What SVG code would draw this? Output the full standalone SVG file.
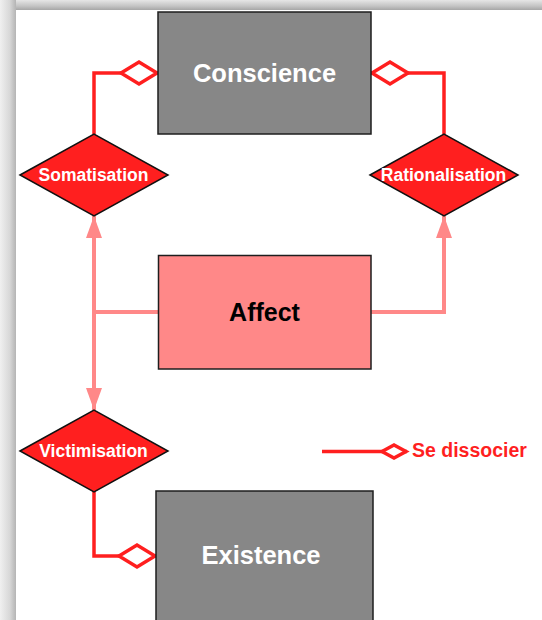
<svg xmlns="http://www.w3.org/2000/svg" width="542" height="620" viewBox="0 0 542 620">
  <style>
    .box { stroke: #1e1e1e; stroke-width: 1.5; }
    .gray { fill: #878787; }
    .pink { fill: #ff8888; }
    .dec { fill: #ff1f1f; stroke: #111; stroke-width: 1.5; }
    .t { font-family: "Liberation Sans", Arial, sans-serif; font-weight: bold; text-anchor: middle; }
    .big { font-size: 25.5px; fill: #ffffff; }
    .dt { font-size: 17.5px; fill: #ffffff; }
    .red { fill: none; stroke: #ff1f1f; stroke-width: 3.5; }
    .pl { fill: none; stroke: #ff8888; stroke-width: 4; }
  </style>
  <defs>
    <linearGradient id="gl" x1="0" y1="0" x2="1" y2="0">
      <stop offset="0" stop-color="#f0f0f0"/>
      <stop offset="0.6" stop-color="#d8d8d8"/>
      <stop offset="1" stop-color="#b4b4b4"/>
    </linearGradient>
    <linearGradient id="gt" x1="0" y1="0" x2="0" y2="1">
      <stop offset="0" stop-color="#e6e6e6"/>
      <stop offset="0.6" stop-color="#c4c4c4"/>
      <stop offset="1" stop-color="#a6a6a6"/>
    </linearGradient>
    <marker id="dia" markerUnits="userSpaceOnUse" viewBox="0 0 38 24" markerWidth="38" markerHeight="24" refX="38" refY="12" orient="auto" overflow="visible">
      <path d="M1 12 L19 1 L37 12 L19 23 Z" fill="#ffffff" stroke="#ff1f1f" stroke-width="3.5"/>
    </marker>
    <marker id="diaS" markerUnits="userSpaceOnUse" viewBox="0 0 26 16" markerWidth="26" markerHeight="16" refX="26" refY="8" orient="auto" overflow="visible">
      <path d="M1 8 L13 1.5 L25 8 L13 14.5 Z" fill="#ffffff" stroke="#ff1f1f" stroke-width="3.5"/>
    </marker>
    <marker id="arr" markerUnits="userSpaceOnUse" viewBox="0 0 22 16" markerWidth="22" markerHeight="16" refX="22" refY="8" orient="auto">
      <path d="M0 0 L22 8 L0 16 Z" fill="#ff8888"/>
    </marker>
  </defs>

  <!-- frame -->
  <rect x="0" y="0" width="542" height="620" fill="#e2e2e2"/>
  <rect x="0" y="0" width="542" height="10" fill="url(#gt)"/>
  <rect x="0" y="0" width="16" height="620" fill="url(#gl)"/>
  <rect x="16" y="10" width="526" height="610" fill="#ffffff"/>

  <g id="connectors">
    <path class="red" d="M94 134 V73 H158" marker-end="url(#dia)"/>
    <path class="red" d="M444 134 V73 H371" marker-end="url(#dia)"/>
    <path class="red" d="M94 491 V556 H156" marker-end="url(#dia)"/>
    <path class="pl" d="M158 312 H94"/>
    <path class="pl" d="M94 312 V216" marker-end="url(#arr)"/>
    <path class="pl" d="M94 312 V410" marker-end="url(#arr)"/>
    <path class="pl" d="M371 312 H444 V216" marker-end="url(#arr)"/>
  </g>

  <g id="conscience">
    <rect class="box gray" x="158" y="12" width="213" height="122"/>
    <text class="t big" x="264.5" y="82">Conscience</text>
  </g>

  <g id="somatisation">
    <polygon class="dec" points="20,175 94,134 168,175 94,216"/>
    <text class="t dt" x="93.5" y="181">Somatisation</text>
  </g>

  <g id="rationalisation">
    <polygon class="dec" points="370,175 444,134 518,175 444,216"/>
    <text class="t dt" x="443.5" y="181">Rationalisation</text>
  </g>

  <g id="affect">
    <rect class="box pink" x="158.5" y="255.5" width="212.5" height="113.5"/>
    <text class="t" x="264.5" y="321" font-size="25" fill="#000000">Affect</text>
  </g>

  <g id="victimisation">
    <polygon class="dec" points="20,451 94,410 168,451 94,492"/>
    <text class="t dt" x="93.5" y="457">Victimisation</text>
  </g>

  <g id="existence">
    <rect class="box gray" x="156" y="491" width="217" height="140"/>
    <text class="t big" x="261" y="564">Existence</text>
  </g>

  <g id="legend">
    <path class="red" d="M322 451.5 H407" marker-end="url(#diaS)"/>
    <text x="412" y="457" font-family="Liberation Sans, Arial, sans-serif" font-weight="bold" font-size="19.5" fill="#ff1f1f">Se dissocier</text>
  </g>
</svg>
